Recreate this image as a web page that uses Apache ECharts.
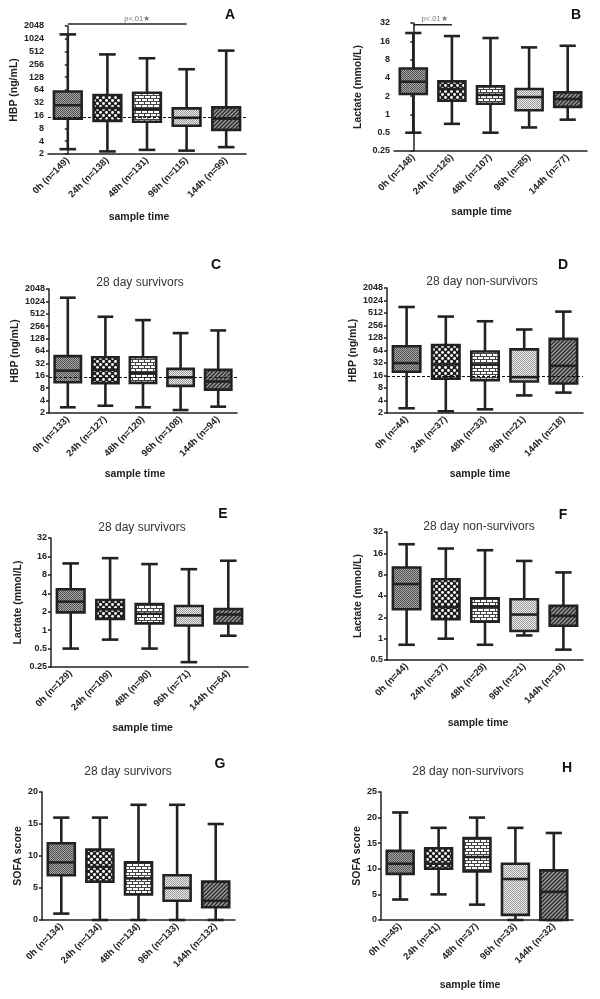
<!DOCTYPE html>
<html><head><meta charset="utf-8">
<script src="https://cdn.jsdelivr.net/npm/echarts@6/dist/echarts.min.js"></script>
<style>html,body{margin:0;padding:0;background:#fff}#c{width:600px;height:999px}</style>
</head><body><div id="c"></div>
<script>
// ---------- DATA ----------
const catsA = ['0h (n=149)','24h (n=138)','48h (n=131)','96h (n=115)','144h (n=99)'];
const catsB = ['0h (n=148)','24h (n=126)','48h (n=107)','96h (n=85)','144h (n=77)'];
const catsC = ['0h (n=133)','24h (n=127)','48h (n=120)','96h (n=108)','144h (n=94)'];
const catsD = ['0h (n=44)','24h (n=37)','48h (n=33)','96h (n=21)','144h (n=18)'];
const catsE = ['0h (n=129)','24h (n=109)','48h (n=90)','96h (n=71)','144h (n=64)'];
const catsF = ['0h (n=44)','24h (n=37)','48h (n=29)','96h (n=21)','144h (n=19)'];
const catsG = ['0h (n=134)','24h (n=134)','48h (n=134)','96h (n=133)','144h (n=132)'];
const catsH = ['0h (n=45)','24h (n=41)','48h (n=37)','96h (n=33)','144h (n=32)'];

// [min, Q1, median, Q3, max] per time point
const boxA = [[2.6,13.5,28,59,1300],[2.3,12,24,49,440],[2.5,11.5,22.6,55,357],[2.4,9.2,14.2,23.6,197],[2.9,7.4,13.5,25,540]];
const boxB = [[0.5,2.17,3.46,5.7,21.9],[0.7,1.68,2.62,3.5,19.5],[0.5,1.5,2.1,2.9,18.1],[0.61,1.17,1.93,2.62,12.7],[0.82,1.33,1.79,2.31,13.5]];
const boxC = [[2.75,11.2,21.4,48,1260],[3.0,10.6,22.3,45,434],[2.75,10.8,18.5,45,360],[2.36,9.1,14.7,23.6,174],[2.85,7.4,11.6,22.3,202]];
const boxD = [[2.6,19.7,31.8,81,714],[2.2,13.4,29.5,87,420],[2.45,12.4,29.5,60.5,324],[5.3,11.5,14.6,68,205],[6.2,10.3,27.4,122,553]];
const boxE = [[0.5,1.95,2.92,4.66,12.3],[0.7,1.53,2.19,3.1,15],[0.5,1.29,1.85,2.67,12],[0.3,1.19,1.74,2.48,9.9],[0.81,1.29,1.8,2.21,13.6]];
const boxF = [[0.82,2.6,5.9,10.1,21.5],[1.0,1.88,2.78,6.9,18.7],[0.82,1.73,2.83,3.7,17.7],[1.11,1.28,2.19,3.6,12.5],[0.7,1.52,2.1,2.9,8.6]];
const boxG = [[1,7,9,12,16],[0,6,8.3,11,16],[0,4,6.5,9,18],[0,3,5,7,18],[0,2,3,6,15]];
const boxH = [[4,9,11,13.5,21],[5,10,11,14,18],[3,9.5,12.3,16,20],[0,1,8,11,18],[0,0,5.5,9.7,17]];

const refHBP = 15;                 // dashed reference line (ng/mL)
const sigA = [0, 3, 2290];         // bracket from category, to category, level
const sigB = [0, 1, 30];
const sigText = 'p<.01\u2605';

// ---------- STYLE HELPERS ----------
const FF = '"Liberation Sans", Arial, sans-serif';
const INK = '#222';
function pat(w, h, draw) {
  const c = document.createElement('canvas'); c.width = w; c.height = h;
  const g = c.getContext('2d'); draw(g, w, h);
  return { image: c, repeat: 'repeat' };
}
const patterns = [
  pat(2, 2, g => { g.fillStyle = '#a8a8a8'; g.fillRect(0,0,2,2); g.fillStyle = '#505050'; g.fillRect(0,0,1,1); g.fillRect(1,1,1,1); }),
  pat(6, 6, g => { g.fillStyle = '#1e1e1e'; g.fillRect(0,0,6,6); g.fillStyle = '#fff';
    [[1.5,1.5],[4.5,4.5]].forEach(p => { g.beginPath(); g.arc(p[0], p[1], 1.45, 0, Math.PI*2); g.fill(); }); }),
  pat(6, 6, g => { g.fillStyle = '#fff'; g.fillRect(0,0,6,6); g.fillStyle = '#444';
    g.fillRect(0,2,6,1); g.fillRect(0,5,6,1); g.fillRect(0,0,1,2); g.fillRect(3,3,1,2); }),
  pat(2, 2, g => { g.fillStyle = '#ececec'; g.fillRect(0,0,2,2); g.fillStyle = '#9a9a9a'; g.fillRect(0,0,1,1); g.fillRect(1,1,1,1); }),
  pat(4, 4, g => { g.fillStyle = '#9a9a9a'; g.fillRect(0,0,4,4); g.strokeStyle = '#2a2a2a'; g.lineWidth = 1.3;
    [[-4,4,4,-4],[0,4,4,0],[0,8,8,0]].forEach(l => { g.beginPath(); g.moveTo(l[0], l[1]); g.lineTo(l[2], l[3]); g.stroke(); }); })
];

function renderBox(params, api) {
  const i = api.value(0);
  const mn = api.value(1), q1 = api.value(2), md = api.value(3), q3 = api.value(4), mx = api.value(5);
  const pMin = api.coord([i, mn]), pQ1 = api.coord([i, q1]), pMd = api.coord([i, md]);
  const pQ3 = api.coord([i, q3]), pMax = api.coord([i, mx]);
  const band = api.size([1, 0], [i, md])[0];
  const cx = pMd[0], w = band * 0.7, cw = band * 0.42;
  const ls = { stroke: INK, lineWidth: 2.6, fill: null };
  return { type: 'group', children: [
    { type: 'line', shape: { x1: cx, y1: pMax[1], x2: cx, y2: pQ3[1] }, style: ls },
    { type: 'line', shape: { x1: cx, y1: pQ1[1], x2: cx, y2: pMin[1] }, style: ls },
    { type: 'line', shape: { x1: cx - cw/2, y1: pMax[1], x2: cx + cw/2, y2: pMax[1] }, style: ls },
    { type: 'line', shape: { x1: cx - cw/2, y1: pMin[1], x2: cx + cw/2, y2: pMin[1] }, style: ls },
    { type: 'rect', shape: { x: cx - w/2, y: pQ3[1], width: w, height: pQ1[1] - pQ3[1] },
      style: { fill: patterns[i], stroke: INK, lineWidth: 2.6 } },
    { type: 'line', shape: { x1: cx - w/2, y1: pMd[1], x2: cx + w/2, y2: pMd[1] }, style: ls }
  ]};
}

const fmtLog = v => String(+(+v).toPrecision(6));

const panels = [
  { cats: catsA, box: boxA, log: true, min: 2, max: 2048, split: 10, yName: 'HBP (ng/mL)', yGap: 24,
    grid: { left: 48, top: 26, width: 198, height: 128 }, xName: 'sample time', xGap: 58, xShift: 16, ref: refHBP, sig: sigA, sigOff: 10 },
  { cats: catsB, box: boxB, log: true, min: 0.25, max: 32, split: 7, yName: 'Lactate (mmol/L)', yGap: 30,
    grid: { left: 394, top: 23, width: 193, height: 128 }, xName: 'sample time', xGap: 56, xShift: 18, sig: sigB, sigOff: 2 },
  { cats: catsC, box: boxC, log: true, min: 2, max: 2048, split: 10, yName: 'HBP (ng/mL)', yGap: 25,
    grid: { left: 49, top: 289, width: 188, height: 124 }, xName: 'sample time', xGap: 56, xShift: 16, ref: refHBP },
  { cats: catsD, box: boxD, log: true, min: 2, max: 2048, split: 10, yName: 'HBP (ng/mL)', yGap: 23,
    grid: { left: 387, top: 288, width: 196, height: 125 }, xName: 'sample time', xGap: 56, xShift: 10, ref: refHBP },
  { cats: catsE, box: boxE, log: true, min: 0.25, max: 32, split: 7, yName: 'Lactate (mmol/L)', yGap: 27,
    grid: { left: 51, top: 538, width: 197, height: 129 }, xName: 'sample time', xGap: 56, xShift: 14 },
  { cats: catsF, box: boxF, log: true, min: 0.5, max: 32, split: 6, yName: 'Lactate (mmol/L)', yGap: 23,
    grid: { left: 387, top: 532, width: 196, height: 128 }, xName: 'sample time', xGap: 58, xShift: 14 },
  { cats: catsG, box: boxG, log: false, min: 0, max: 20, interval: 5, yName: 'SOFA score', yGap: 18,
    grid: { left: 42, top: 792, width: 193, height: 128 }, xName: '', xGap: 58, xShift: 0 },
  { cats: catsH, box: boxH, log: false, min: 0, max: 25, interval: 5, yName: 'SOFA score', yGap: 17,
    grid: { left: 381, top: 792, width: 192, height: 128 }, xName: 'sample time', xGap: 60, xShift: 14 }
];

const grids = [], xAxes = [], yAxes = [], series = [];
panels.forEach((p, gi) => {
  grids.push(p.grid);
  const xi = xAxes.length;
  xAxes.push({
    type: 'category', gridIndex: gi, data: p.cats, boundaryGap: true,
    axisLine: { lineStyle: { color: INK, width: 1.5 } },
    axisTick: { alignWithLabel: true, length: 4, lineStyle: { color: INK, width: 1.5 } },
    axisLabel: { rotate: 45, margin: 5, fontSize: 9.5, fontWeight: 'bold', color: INK, fontFamily: FF, interval: 0 },
    name: p.xName, nameLocation: 'middle', nameGap: p.xGap,
    nameTextStyle: { fontSize: 10.5, fontWeight: 'bold', color: INK, fontFamily: FF, padding: [0, p.xShift, 0, 0] }
  });
  const yi = yAxes.length;
  const y = {
    gridIndex: gi, min: p.min, max: p.max,
    axisLine: { show: true, lineStyle: { color: INK, width: 1.5 } },
    axisTick: { show: true, length: 3, lineStyle: { color: INK, width: 1.5 } },
    splitLine: { show: false },
    axisLabel: { fontSize: 9, fontWeight: 'bold', color: INK, fontFamily: FF, margin: 4 },
    name: p.yName, nameLocation: 'middle', nameGap: p.yGap,
    nameTextStyle: { fontSize: 10.5, fontWeight: 'bold', color: INK, fontFamily: FF }
  };
  if (p.log) { Object.assign(y, { type: 'log', logBase: 2, interval: 1, splitNumber: p.split }); y.axisLabel.formatter = fmtLog; }
  else { Object.assign(y, { type: 'value', interval: p.interval }); }
  yAxes.push(y);

  const s = {
    type: 'custom', xAxisIndex: xi, yAxisIndex: yi, renderItem: renderBox,
    encode: { x: 0, y: [1, 2, 3, 4, 5] },
    data: p.box.map((b, i) => [i].concat(b)), silent: true, animation: false
  };
  if (p.ref != null) {
    s.markLine = { silent: true, symbol: ['none', 'none'], label: { show: false }, animation: false,
      lineStyle: { color: '#111', type: [3, 2], width: 1.2 }, data: [{ yAxis: p.ref }], z: 10 };
  }
  series.push(s);

  if (p.sig) {
    const hx = xAxes.length;
    xAxes.push({ type: 'value', gridIndex: gi, min: -0.5, max: p.cats.length - 0.5, show: false });
    series.push({ type: 'line', xAxisIndex: hx, yAxisIndex: yi, clip: false, symbol: 'none', silent: true, animation: false,
      lineStyle: { color: INK, width: 1.5 }, data: [[p.sig[0], p.sig[2]], [p.sig[1], p.sig[2]]] });
    series.push({ type: 'scatter', xAxisIndex: hx, yAxisIndex: yi, clip: false, symbolSize: 1, silent: true, animation: false,
      itemStyle: { color: 'rgba(0,0,0,0)' },
      label: { show: true, position: 'top', distance: 1, offset: [p.sigOff, 0], formatter: sigText,
        fontSize: 7.5, color: '#555', fontFamily: FF },
      data: [[(p.sig[0] + p.sig[1]) / 2, p.sig[2]]] });
  }
});

function txt(x, y, text, size, bold, color) {
  return { type: 'text', x: x, y: y, silent: true,
    style: { text: text, font: (bold ? 'bold ' : '') + size + 'px ' + FF, fill: color,
      textAlign: 'center', textVerticalAlign: 'middle', align: 'center', verticalAlign: 'middle' } };
}
const graphics = [
  txt(230, 15, 'A', 14, true, '#111'), txt(576, 15, 'B', 14, true, '#111'),
  txt(216, 265, 'C', 14, true, '#111'), txt(563, 265, 'D', 14, true, '#111'),
  txt(223, 514, 'E', 14, true, '#111'), txt(563, 515, 'F', 14, true, '#111'),
  txt(220, 764, 'G', 14, true, '#111'), txt(567, 768, 'H', 14, true, '#111'),
  txt(140, 283, '28 day survivors', 12, false, '#333'), txt(482, 282, '28 day non-survivors', 12, false, '#333'),
  txt(142, 528, '28 day survivors', 12, false, '#333'), txt(479, 527, '28 day non-survivors', 12, false, '#333'),
  txt(128, 772, '28 day survivors', 12, false, '#333'), txt(468, 772, '28 day non-survivors', 12, false, '#333')
];

const chart = echarts.init(document.getElementById('c'), null, { renderer: 'canvas', width: 600, height: 999 });
chart.setOption({
  backgroundColor: '#fff', animation: false,
  textStyle: { fontFamily: FF },
  grid: grids, xAxis: xAxes, yAxis: yAxes, series: series, graphic: graphics
});
</script></body></html>
